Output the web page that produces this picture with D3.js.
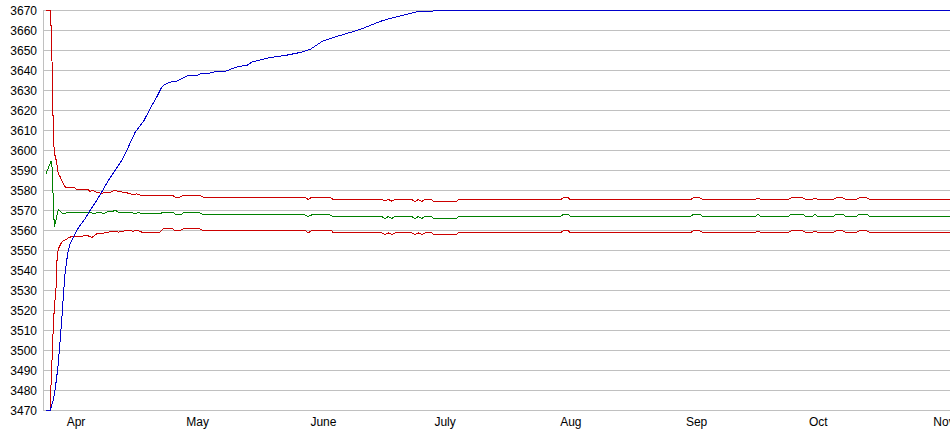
<!DOCTYPE html>
<html>
<head>
<meta charset="utf-8">
<script src="https://cdn.jsdelivr.net/npm/d3@7"></script>
<style>
  html, body { margin: 0; padding: 0; background: #fff; }
  svg { display: block; }
  text { font-family: "Liberation Sans", Arial, sans-serif; font-size: 12px; fill: #000; }
</style>
</head>
<body>
<svg id="chart" width="950" height="435"></svg>
<script>
// ---- data (day offsets relative to 1 April, value) ----
const monthDays = [0, 30, 61, 91, 122, 153, 183, 214];
const monthLabels = ["Apr", "May", "June", "July", "Aug", "Sep", "Oct", "Nov"];
const yTicks = [3470, 3480, 3490, 3500, 3510, 3520, 3530, 3540, 3550, 3560, 3570,
                3580, 3590, 3600, 3610, 3620, 3630, 3640, 3650, 3660, 3670];

const upperBand = [
  [-7.40,3670],[-6.24,3670],[-6.16,3662.5],[-6.04,3650],[-5.92,3645],[-5.79,3628.5],[-5.60,3611.5],
  [-5.42,3601.5],[-5.18,3597.5],[-4.86,3595],[-4.36,3588.5],[-3.94,3587],[-3.53,3585],[-2.71,3582],
  [-2.29,3581.3],[-0.25,3581.3],[0.17,3580.3],[3.03,3580.3],[3.45,3579.6],[4.27,3580],[5.10,3579],
  [5.92,3578.8],[6.34,3578.3],[6.73,3579],[8.38,3579],[9.62,3580.2],[10.43,3579.5],[12.08,3579],
  [13.31,3578.5],[14.13,3577.8],[14.97,3578.3],[16.20,3577.5],[23.84,3577.5],[24.41,3576.7],
  [25.64,3576.7],[26.45,3577.5],[30.57,3577.5],[31.39,3576.7],[56.46,3576.7],[57.27,3575.5],
  [58.11,3576.7],[62.62,3576.7],[63.44,3575.5],[75.37,3575.5],[76.18,3574.7],[77.00,3575.5],
  [77.84,3574.7],[78.65,3575.5],[82.77,3575.5],[83.58,3574.5],[84.40,3575.5],[85.23,3574.5],
  [86.05,3575.5],[87.70,3575.5],[88.09,3574.5],[93.86,3574.5],[94.25,3575.3],[119.33,3575.3],
  [120.14,3576.3],[121.38,3576.3],[121.97,3575.3],[151.38,3575.3],[152.19,3576.3],[153.85,3576.3],
  [154.59,3575.3],[167.41,3575.3],[168.15,3576.3],[168.89,3575.3],[175.54,3575.3],[176.28,3576.3],
  [179.24,3576.3],[179.98,3575.3],[181.46,3575.3],[182.20,3576.3],[182.94,3575.3],[186.64,3575.3],
  [187.38,3576.3],[189.10,3576.3],[189.84,3575.3],[192.31,3575.3],[193.05,3576.3],[195.02,3576.3],
  [195.76,3575.3],[216.0,3575.3]
];

const midLine = [
  [-7.40,3588.3],[-6.41,3593.3],[-6.16,3594.5],[-5.92,3592],[-5.60,3575],[-5.35,3561.7],[-4.93,3565],
  [-4.61,3568.3],[-4.36,3570.3],[-3.94,3569.7],[-3.53,3569],[-3.13,3568.3],[-1.90,3569.2],[3.45,3569.2],
  [4.27,3568.3],[5.50,3569.2],[5.92,3569.2],[6.73,3568.3],[7.57,3569.2],[9.20,3569.7],[9.62,3570.3],
  [10.43,3569.2],[13.73,3569.2],[14.55,3568.3],[15.36,3569.2],[16.20,3568.3],[20.71,3568.3],
  [21.52,3569.2],[23.99,3569],[24.65,3567.8],[25.81,3567.8],[26.45,3568.8],[30.57,3568.8],
  [31.39,3567.8],[56.46,3567.8],[57.27,3567],[58.11,3567.8],[62.62,3567.8],[63.44,3567],[75.37,3567],
  [76.18,3566],[77.00,3567],[77.84,3566],[78.65,3567],[82.77,3567],[83.58,3566],[84.40,3567],
  [85.23,3566],[86.05,3567],[87.70,3567],[88.09,3566],[93.86,3566],[94.25,3567],[119.33,3567],
  [120.14,3568],[121.38,3568],[121.97,3567],[151.38,3567],[152.19,3568],[153.85,3568],[154.59,3567],
  [167.41,3567],[168.15,3568],[168.89,3567],[175.54,3567],[176.28,3568],[179.24,3568],[179.98,3567],
  [181.46,3567],[182.20,3568],[182.94,3567],[186.64,3567],[187.38,3568],[189.10,3568],[189.84,3567],
  [192.31,3567],[193.05,3568],[195.02,3568],[195.76,3567],[216.0,3567]
];

const lowerBand = [
  [-7.40,3470],[-6.41,3470],[-6.29,3476],[-6.04,3489],[-5.79,3501],[-5.55,3515],[-5.18,3525],
  [-4.93,3531],[-4.76,3543],[-4.56,3548],[-4.36,3550.8],[-3.94,3552.5],[-3.77,3553.3],[-3.13,3555],
  [-2.29,3555.5],[-1.90,3556.3],[-1.06,3557],[0.57,3557.2],[3.03,3557.3],[3.87,3556.5],[5.10,3558.3],
  [6.34,3558.5],[7.57,3559],[9.20,3559.7],[10.43,3559.2],[12.50,3560],[14.13,3559.7],[15.36,3560],
  [16.20,3559.2],[20.71,3559.2],[21.52,3560.8],[23.84,3560.8],[24.41,3560],[25.64,3560],
  [26.45,3560.8],[30.57,3560.8],[31.39,3560],[56.46,3560],[57.27,3558.8],[58.11,3560],[63.04,3560],
  [63.44,3558.8],[75.37,3558.8],[76.18,3558],[77.00,3558.8],[77.84,3558],[78.65,3558.8],
  [82.77,3558.8],[83.58,3558],[84.40,3558.8],[85.23,3558],[86.05,3558.8],[87.70,3558.8],[88.09,3558],
  [93.86,3558],[94.25,3558.8],[119.33,3558.8],[120.14,3559.8],[121.38,3559.8],[121.97,3558.8],
  [151.38,3558.8],[152.19,3559.8],[153.85,3559.8],[154.59,3558.8],[167.41,3558.8],[168.15,3559.8],
  [168.89,3558.8],[175.54,3558.8],[176.28,3559.8],[179.24,3559.8],[179.98,3558.8],[181.46,3558.8],
  [182.20,3559.8],[182.94,3558.8],[186.64,3558.8],[187.38,3559.8],[189.10,3559.8],[189.84,3558.8],
  [192.31,3558.8],[193.05,3559.8],[195.02,3559.8],[195.76,3558.8],[216.0,3558.8]
];

const rising = [
  [-7.40,3470],[-6.41,3470],[-5.60,3475],[-5.18,3480],[-4.76,3486.7],[-4.36,3493.3],[-4.12,3500],
  [-3.77,3508.5],[-3.53,3515],[-3.13,3526.7],[-2.71,3538.3],[-2.29,3545],[-1.90,3550],[-1.48,3553.3],
  [-0.67,3556.7],[0.17,3560],[0.99,3562.5],[2.22,3565.8],[3.45,3570],[5.10,3575],[6.34,3579.2],
  [7.96,3585],[9.62,3590],[11.27,3595],[12.50,3600],[14.55,3609],[16.77,3615],[18.24,3620.8],
  [19.90,3626.7],[21.13,3631.7],[21.52,3632.5],[23.18,3634.2],[24.83,3634.7],[26.45,3636.3],
  [27.69,3637.5],[29.76,3637.5],[30.57,3638.3],[32.62,3638.3],[33.46,3639.2],[36.74,3639.5],
  [37.97,3640.5],[40.01,3642],[42.09,3642.5],[43.32,3644.2],[44.95,3645],[47.83,3646.5],
  [51.53,3647.5],[55.23,3649],[57.69,3650.5],[59.17,3652.5],[60.65,3654.5],[62.62,3656],
  [65.09,3657.5],[67.55,3659],[70.02,3660.5],[72.49,3662.5],[74.95,3664.5],[76.18,3665.3],
  [77.84,3666.2],[79.88,3667.2],[81.93,3668.3],[84.40,3669.5],[87.70,3669.5],[88.26,3670],[216.0,3670]
];

const seriesList = [
  { data: lowerBand, color: "#cc0000" },
  { data: upperBand, color: "#cc0000" },
  { data: midLine,   color: "#008000" },
  { data: rising,    color: "#0000cc" }
];

// ---- layout ----
const W = 950, H = 435;
const plotLeft = 43, plotRight = 960;
const svg = d3.select("#chart");

const x = d3.scaleLinear().domain([0, 214]).range([76, 944]);
const y = d3.scaleLinear().domain([3470, 3670]).range([410, 10]);

// grid lines
svg.append("g")
  .selectAll("line")
  .data(yTicks)
  .join("line")
  .attr("x1", plotLeft).attr("x2", plotRight)
  .attr("y1", d => y(d) + 0.5).attr("y2", d => y(d) + 0.5)
  .attr("stroke", "#c0c0c0").attr("stroke-width", 1)
  .attr("shape-rendering", "crispEdges");

// left axis line
svg.append("line")
  .attr("x1", plotLeft + 0.5).attr("x2", plotLeft + 0.5)
  .attr("y1", y(3670)).attr("y2", y(3470) + 1)
  .attr("stroke", "#c0c0c0").attr("shape-rendering", "crispEdges");

// y labels
const yAxis = d3.axisLeft(y).tickValues(yTicks).tickSize(0).tickPadding(0).tickFormat(d3.format("d"));
const yg = svg.append("g").attr("transform", `translate(${plotLeft - 6},0.5)`).call(yAxis);
yg.select(".domain").remove();
yg.selectAll("text").attr("font-family", "Liberation Sans, Arial, sans-serif").attr("font-size", 12).attr("fill", "#000");

// x labels
const xg = svg.append("g");
xg.selectAll("text")
  .data(monthDays)
  .join("text")
  .attr("x", d => x(d))
  .attr("y", 426)
  .attr("text-anchor", "middle")
  .text((d, i) => monthLabels[i]);

// lines
const line = d3.line().x(d => x(d[0])).y(d => y(d[1]) + 0.5);
svg.append("g")
  .selectAll("path")
  .data(seriesList)
  .join("path")
  .attr("d", d => line(d.data))
  .attr("fill", "none")
  .attr("stroke", d => d.color)
  .attr("stroke-width", 1)
  .attr("shape-rendering", "crispEdges");
</script>
</body>
</html>
